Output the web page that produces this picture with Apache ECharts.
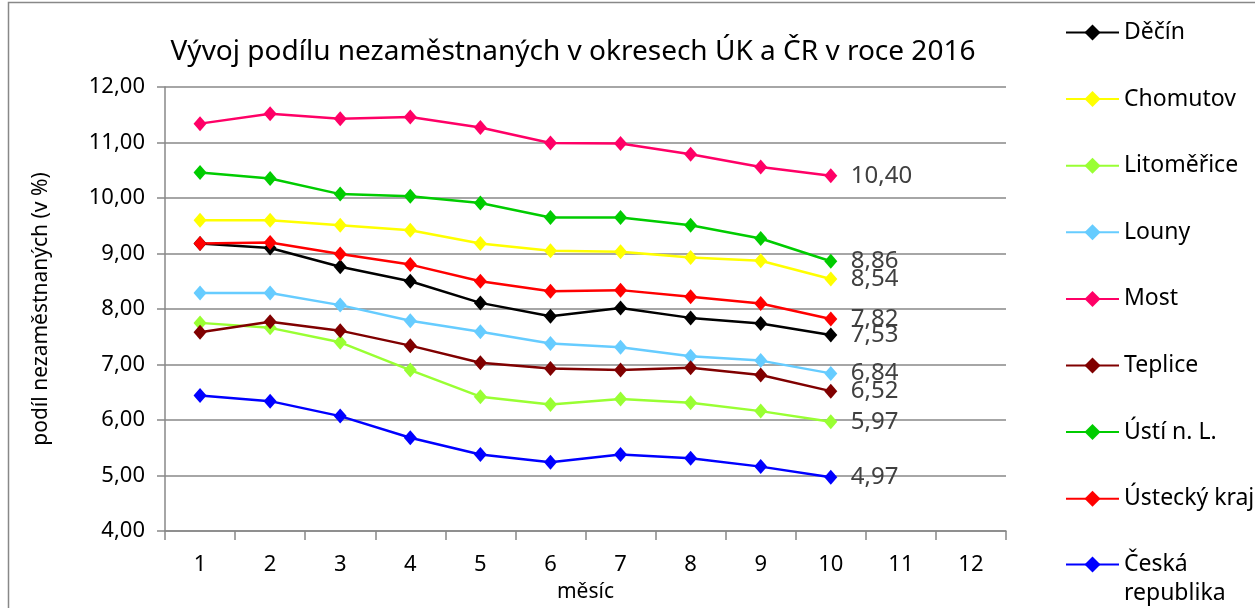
<!DOCTYPE html>
<html>
<head>
<meta charset="utf-8">
<script src="https://cdn.jsdelivr.net/npm/echarts@6/dist/echarts.min.js"></script>
<style>
  html, body { margin: 0; padding: 0; background: #fff; }
  #chart { width: 1255px; height: 608px; }
</style>
</head>
<body>
<div id="chart"></div>
<script>
const months = ['1', '2', '3', '4', '5', '6', '7', '8', '9', '10', '11', '12'];

const decin      = [9.18, 9.10, 8.76, 8.50, 8.11, 7.87, 8.02, 7.84, 7.74, 7.53];
const chomutov   = [9.60, 9.60, 9.51, 9.42, 9.18, 9.05, 9.03, 8.93, 8.87, 8.54];
const litomerice = [7.75, 7.66, 7.40, 6.90, 6.42, 6.28, 6.38, 6.31, 6.16, 5.97];
const louny      = [8.29, 8.29, 8.07, 7.79, 7.59, 7.38, 7.31, 7.15, 7.07, 6.84];
const most       = [11.34, 11.52, 11.43, 11.46, 11.27, 10.99, 10.98, 10.79, 10.56, 10.40];
const teplice    = [7.58, 7.77, 7.61, 7.34, 7.03, 6.93, 6.90, 6.94, 6.81, 6.52];
const ustiNL     = [10.46, 10.35, 10.07, 10.03, 9.91, 9.65, 9.65, 9.51, 9.27, 8.86];
const ustKraj    = [9.18, 9.20, 8.99, 8.80, 8.50, 8.32, 8.34, 8.22, 8.10, 7.82];
const ceskaRep   = [6.44, 6.34, 6.07, 5.68, 5.38, 5.24, 5.38, 5.31, 5.16, 4.97];

const FONT = '"Noto Sans", sans-serif';
const fmt = v => v.toFixed(2).replace('.', ',');

function line(name, data, color) {
  return {
    name: name,
    type: 'line',
    data: data,
    symbol: 'diamond',
    symbolSize: [13, 15],
    color: color,
    lineStyle: { width: 2.5, color: color },
    itemStyle: { color: color },
    endLabel: {
      show: true,
      distance: 20,
      color: '#404040',
      fontSize: 24,
      fontFamily: FONT,
      formatter: p => fmt(p.value)
    },
    emphasis: { disabled: true },
    animation: false
  };
}

const chart = echarts.init(document.getElementById('chart'));

chart.setOption({
  backgroundColor: '#fff',
  title: {
    text: 'Vývoj podílu nezaměstnaných v okresech ÚK a ČR v roce 2016',
    left: 568,
    textAlign: 'center',
    top: 33,
    textStyle: { fontFamily: FONT, fontSize: 28, fontWeight: 'normal', color: '#000' }
  },
  graphic: [{
    type: 'rect',
    shape: { x: 8.5, y: 2.5, width: 1300, height: 700 },
    style: { fill: 'none', stroke: '#888', lineWidth: 1.5 },
    silent: true
  }],
  legend: [{
    orient: 'vertical',
    left: 1060,
    top: 16,
    itemWidth: 53,
    itemHeight: 20,
    itemGap: 43.6,
    textStyle: { fontFamily: FONT, fontSize: 23, color: '#000', lineHeight: 20 },
    data: ['Děčín', 'Chomutov', 'Litoměřice', 'Louny', 'Most', 'Teplice', 'Ústí n. L.', 'Ústecký kraj']
  }, {
    orient: 'vertical',
    left: 1060,
    top: 516,
    itemWidth: 53,
    itemHeight: 20,
    formatter: () => ' \nČeská\nrepublika',
    textStyle: { fontFamily: FONT, fontSize: 23, color: '#000', lineHeight: 29 },
    data: ['Česká republika']
  }],
  grid: { left: 165, right: 249, top: 87, bottom: 74 },
  xAxis: {
    type: 'category',
    data: months,
    name: 'měsíc',
    nameLocation: 'middle',
    nameGap: 51,
    nameTextStyle: { fontFamily: FONT, fontSize: 21, color: '#000' },
    axisLine: { lineStyle: { color: '#888', width: 1.5 } },
    axisTick: { show: true, length: 9, lineStyle: { color: '#888', width: 1.5 } },
    axisLabel: { fontFamily: FONT, fontSize: 22, color: '#000', margin: 23 },
    splitLine: { show: false }
  },
  yAxis: {
    type: 'value',
    min: 4,
    max: 12,
    interval: 1,
    name: 'podíl nezaměstnaných (v %)',
    nameLocation: 'middle',
    nameGap: 113,
    nameTextStyle: { fontFamily: FONT, fontSize: 21, color: '#000' },
    axisLine: { show: true, lineStyle: { color: '#888', width: 1.5 } },
    axisTick: { show: true, length: 8, lineStyle: { color: '#888', width: 1.5 } },
    axisLabel: { fontFamily: FONT, fontSize: 22, color: '#000', margin: 20, formatter: v => fmt(v) },
    splitLine: { lineStyle: { color: '#888', width: 1.5 } }
  },
  series: [
    line('Děčín', decin, '#000000'),
    line('Chomutov', chomutov, '#FFFF00'),
    line('Litoměřice', litomerice, '#99FF33'),
    line('Louny', louny, '#66CCFF'),
    line('Most', most, '#FF0066'),
    line('Teplice', teplice, '#800000'),
    line('Ústí n. L.', ustiNL, '#00CC00'),
    line('Ústecký kraj', ustKraj, '#FF0000'),
    line('Česká republika', ceskaRep, '#0000FF')
  ]
});
</script>
</body>
</html>
